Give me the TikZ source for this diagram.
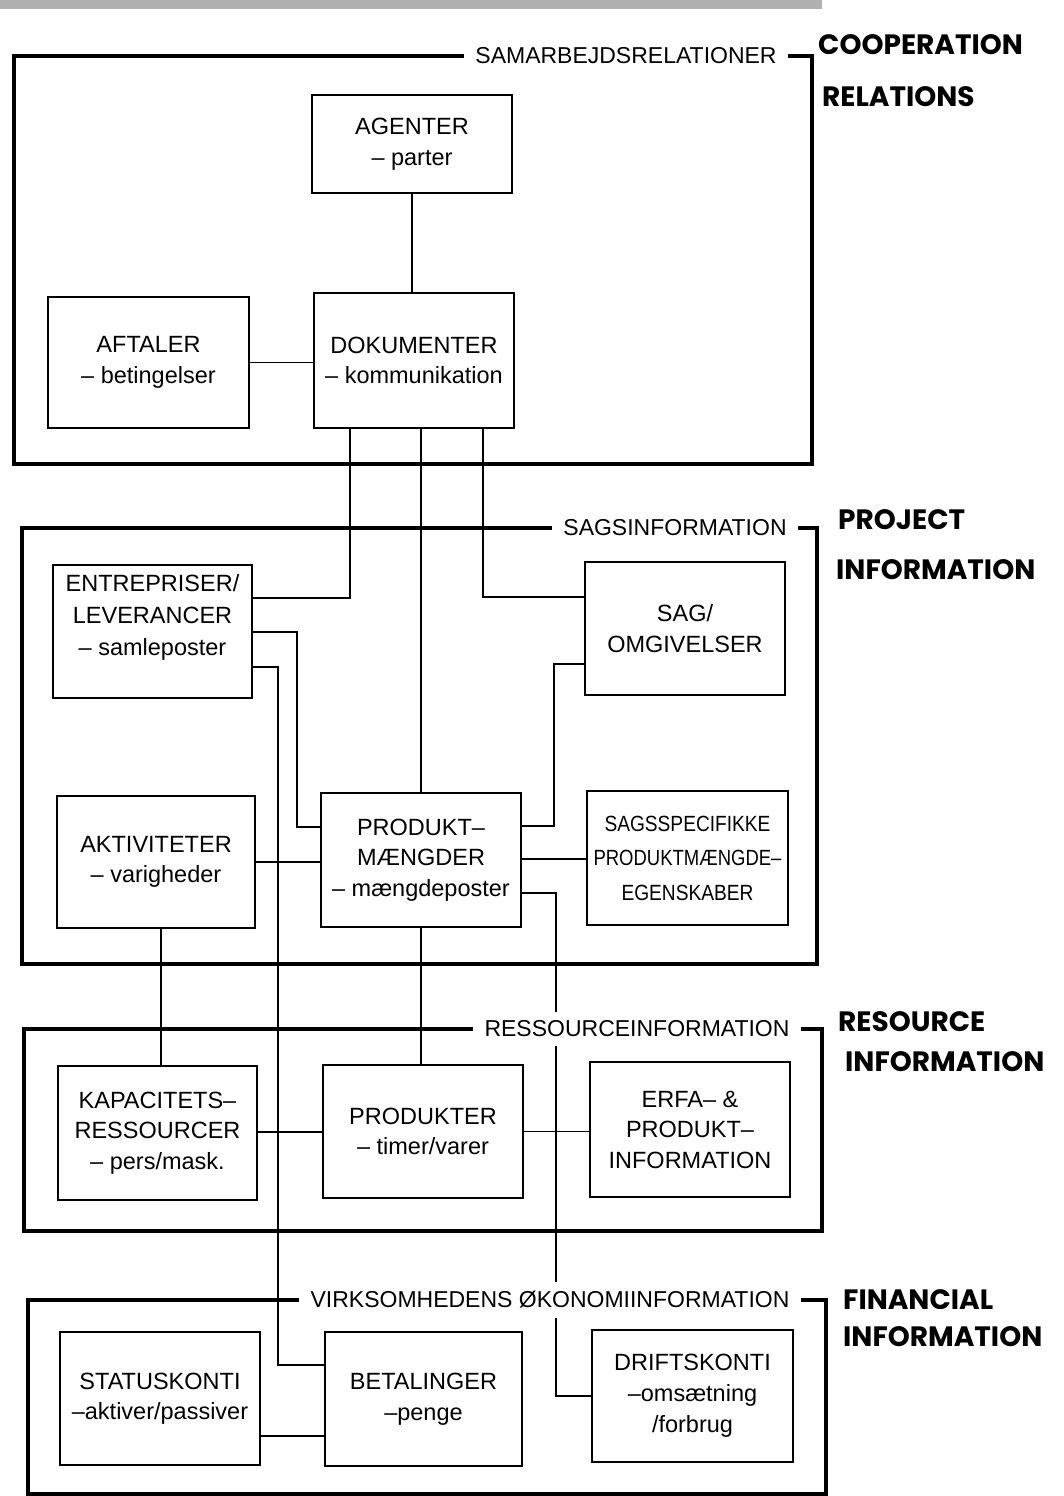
\documentclass[tikz,border=0pt]{standalone}
\usepackage{fontspec}
\setmainfont{Liberation Sans}
\newfontfamily\hand{Poppins}
\begin{document}
\begin{tikzpicture}[x=1pt,y=-1pt,
  box/.style={draw,line width=1.4pt,inner sep=0pt,align=center,
    font=\fontsize{23.5}{30.5}\selectfont},
  boxtext/.style={inner sep=0pt,align=center,font=\fontsize{23.5}{32}\selectfont},
  link/.style={line width=1.2pt},
  frame/.style={line width=3.2pt,line join=miter},
  grouptitle/.style={fill=white,inner xsep=11pt,inner ysep=9pt,
    font=\fontsize{23}{26}\selectfont},
  handnote/.style={anchor=west,inner sep=0pt,font=\hand\bfseries\fontsize{28}{30}\selectfont}]

\useasboundingbox (0,0) rectangle (1063,1496);

% scanned strip along the top edge
\fill[gray!62] (0,0) rectangle (822,9);

% ---- boxes ----
\node[box,minimum width=200pt,minimum height=98pt]  (ag)   at (412,144)    {AGENTER\\– parter};
\node[box,minimum width=201pt,minimum height=131pt] (aft)  at (148.5,362.5){AFTALER\\– betingelser};
\node[box,minimum width=200pt,minimum height=135pt] (dok)  at (414,360.5)  {DOKUMENTER\\– kommunikation};

\node[box,minimum width=199pt,minimum height=133pt] (ent)  at (152.5,631.5) {};
\node[boxtext] (entT) at (152.5,617) {ENTREPRISER/\\LEVERANCER\\– samleposter};
\node[box,minimum width=200pt,minimum height=133pt] (sag)  at (685,628.5)  {SAG/\\OMGIVELSER};
\node[box,minimum width=198pt,minimum height=132pt] (akt)  at (156,862)    {AKTIVITETER\\– varigheder};
\node[box,minimum width=200pt,minimum height=134pt] (pm)   at (421,860)    {PRODUKT–\\MÆNGDER\\– mængdeposter};
\node[box,minimum width=201pt,minimum height=134pt,font=\fontsize{22}{34.5}\selectfont]
                                                    (ssp)  at (687.5,858)
  {\scalebox{0.87}[1]{SAGSSPECIFIKKE}\\\scalebox{0.84}[1]{PRODUKTMÆNGDE–}\\\scalebox{0.87}[1]{EGENSKABER}};

\node[box,minimum width=199pt,minimum height=134pt] (kap)  at (157.5,1133) {KAPACITETS–\\RESSOURCER\\– pers/mask.};
\node[box,minimum width=200pt,minimum height=133pt] (prod) at (423,1131.5) {PRODUKTER\\– timer/varer};
\node[box,minimum width=200pt,minimum height=135pt] (erfa) at (690,1129.5) {ERFA– \&\\PRODUKT–\\INFORMATION};

\node[box,minimum width=200pt,minimum height=133pt] (stat) at (160,1398.5) {STATUSKONTI\\–aktiver/passiver};
\node[box,minimum width=197pt,minimum height=134pt] (bet)  at (423.5,1399) {BETALINGER\\–penge};
\node[box,minimum width=201pt,minimum height=132pt,font=\fontsize{23.5}{31}\selectfont]
                                                    (drift) at (692.5,1396) {DRIFTSKONTI\\–omsætning\\/forbrug};

% ---- connectors ----
\coordinate (k1)  at (350,598);
\coordinate (k3)  at (483,597);
\coordinate (k4)  at (297,632);
\coordinate (k5)  at (297,827);
\coordinate (k6)  at (278,667);
\coordinate (k7)  at (278,1365);
\coordinate (k9)  at (554,826);
\coordinate (k10) at (554,664);
\coordinate (k11) at (0,859);
\coordinate (k12) at (556,893);
\coordinate (k13) at (556,1396);
\coordinate (k14) at (161,0);
\coordinate (k15) at (0,1132);
\coordinate (k16) at (0,1436);

\draw[link] (ag.south) -- (ag.south |- dok.north);
\draw[link] (aft.east) -- (aft.east -| dok.west);
\draw[link] (dok.south -| k1) |- (ent.east |- k1);
\draw[link] (pm.north |- dok.south) -- (pm.north);
\draw[link] (dok.south -| k3) |- (sag.west |- k3);
\draw[link] (ent.east |- k4) -- (k4) -- (k5) -- (pm.west |- k5);
\draw[link] (ent.east |- k6) -- (k6) -- (k7) -- (bet.west |- k7);
\draw[link] (akt.east) -- (akt.east -| pm.west);
\draw[link] (pm.east |- k9) -- (k9) -- (k10) -- (sag.west |- k10);
\draw[link] (pm.east |- k11) -- (ssp.west |- k11);
\draw[link] (pm.east |- k12) -- (k12) -- (k13) -- (drift.west |- k13);
\draw[link] (akt.south -| k14) -- (kap.north -| k14);
\draw[link] (pm.south) -- (pm.south |- prod.north);
\draw[link] (kap.east |- k15) -- (prod.west |- k15);
\draw[link] (prod.east) -- (prod.east -| erfa.west);
\draw[link] (stat.east |- k16) -- (bet.west |- k16);

% ---- group titles and frames ----
\node[grouptitle] (t1) at (626,56)   {SAMARBEJDSRELATIONER};
\node[grouptitle] (t2) at (675,528)  {SAGSINFORMATION};
\node[grouptitle] (t3) at (637,1029) {RESSOURCEINFORMATION};
\node[grouptitle] (t4) at (550,1300) {VIRKSOMHEDENS ØKONOMIINFORMATION};

\draw[frame] (t1.west) -- (14,56)   -- (14,464)   -- (812,464)  -- (812,56)   -- (t1.east);
\draw[frame] (t2.west) -- (22,528)  -- (22,964)   -- (817,964)  -- (817,528)  -- (t2.east);
\draw[frame] (t3.west) -- (24,1029) -- (24,1231)  -- (822,1231) -- (822,1029) -- (t3.east);
\draw[frame] (t4.west) -- (28,1300) -- (28,1494)  -- (826,1494) -- (826,1300) -- (t4.east);

% ---- handwritten glosses ----
\node[handnote] (h1a) at (818,45)   {COOPERATION};
\node[handnote] (h1b) at (822,97)   {RELATIONS};
\node[handnote] (h2a) at (838,520)  {PROJECT};
\node[handnote] (h2b) at (836,570)  {INFORMATION};
\node[handnote] (h3a) at (838,1022) {RESOURCE};
\node[handnote] (h3b) at (845,1062) {INFORMATION};
\node[handnote] (h4a) at (843,1300) {FINANCIAL};
\node[handnote] (h4b) at (843,1337) {INFORMATION};
\end{tikzpicture}
\end{document}
